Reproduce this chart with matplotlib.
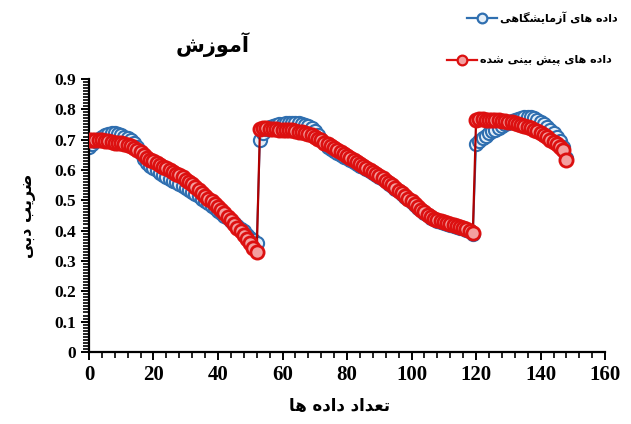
import matplotlib
matplotlib.use("Agg")
import matplotlib.pyplot as plt
from matplotlib.lines import Line2D
from matplotlib.ticker import MultipleLocator

# measured (lab) and predicted discharge coefficient, one value per sample
measured = [
    0.675, 0.685, 0.695, 0.703, 0.710, 0.715, 0.718, 0.720, 0.720, 0.718,
    0.715, 0.710, 0.704, 0.697, 0.688, 0.675, 0.655, 0.635, 0.622, 0.613,
    0.605, 0.598, 0.590, 0.583, 0.577, 0.571, 0.565, 0.559, 0.553, 0.547,
    0.540, 0.534, 0.527, 0.520, 0.513, 0.505, 0.497, 0.490, 0.482, 0.474,
    0.466, 0.457, 0.449, 0.440, 0.432, 0.424, 0.415, 0.406, 0.397, 0.387,
    0.377, 0.368, 0.360,
    0.700, 0.720, 0.735, 0.742, 0.746, 0.748, 0.750, 0.752, 0.753, 0.754,
    0.755, 0.755, 0.754, 0.752, 0.749, 0.745, 0.738, 0.728, 0.715, 0.700,
    0.687, 0.677, 0.668, 0.661, 0.655, 0.649, 0.643, 0.638, 0.632, 0.626,
    0.620, 0.614, 0.608, 0.602, 0.596, 0.590, 0.584, 0.577, 0.570, 0.562,
    0.554, 0.546, 0.538, 0.530, 0.521, 0.512, 0.503, 0.494, 0.485, 0.476,
    0.467, 0.458, 0.450, 0.443, 0.437, 0.432, 0.428, 0.425, 0.422, 0.419,
    0.416, 0.413, 0.410, 0.407, 0.403, 0.398, 0.390,
    0.685, 0.695, 0.705, 0.713, 0.720, 0.727, 0.733, 0.739, 0.745, 0.750,
    0.755, 0.760, 0.764, 0.768, 0.771, 0.773, 0.774, 0.773, 0.770, 0.765,
    0.758, 0.750, 0.742, 0.733, 0.722, 0.710, 0.695, 0.675, 0.640,
]
predicted = [
    0.700, 0.700, 0.700, 0.698, 0.697, 0.695, 0.694, 0.692, 0.690, 0.689,
    0.687, 0.685, 0.682, 0.678, 0.673, 0.667, 0.658, 0.648, 0.640, 0.634,
    0.628, 0.622, 0.616, 0.610, 0.605, 0.600, 0.594, 0.588, 0.582, 0.575,
    0.567, 0.560, 0.552, 0.543, 0.534, 0.525, 0.515, 0.505, 0.496, 0.487,
    0.477, 0.467, 0.457, 0.446, 0.434, 0.422, 0.410, 0.398, 0.386, 0.372,
    0.358, 0.344, 0.328,
    0.735, 0.738, 0.737, 0.736, 0.735, 0.734, 0.733, 0.733, 0.732, 0.731,
    0.730, 0.728, 0.726, 0.724, 0.721, 0.718, 0.714, 0.709, 0.703, 0.697,
    0.690, 0.684, 0.678, 0.671, 0.665, 0.658, 0.652, 0.645, 0.639, 0.632,
    0.626, 0.619, 0.613, 0.606, 0.600, 0.594, 0.587, 0.580, 0.572, 0.565,
    0.557, 0.549, 0.540, 0.532, 0.523, 0.514, 0.505, 0.496, 0.487, 0.478,
    0.469, 0.460, 0.452, 0.445, 0.439, 0.434, 0.430, 0.427, 0.424, 0.421,
    0.418, 0.415, 0.412, 0.409, 0.405, 0.400, 0.393,
    0.765, 0.767, 0.767, 0.766, 0.766, 0.765, 0.764, 0.763, 0.762, 0.760,
    0.759, 0.757, 0.755, 0.752, 0.749, 0.745, 0.741, 0.737, 0.732, 0.727,
    0.720, 0.714, 0.707, 0.700, 0.693, 0.685, 0.676, 0.665, 0.632,
]
samples = list(range(len(predicted)))

title_text = "آموزش"
xlabel_text = "تعداد داده ها"
ylabel_text = "ضریب دبی"
measured_label = "داده های آزمایشگاهی"
predicted_label = "داده های پیش بینی شده"

# presentation forms: isolated, final, initial, medial (None = no such form)
FORMS = {
    "ا": ("\uFE8D", "\uFE8E", None, None),
    "آ": ("\uFE81", "\uFE82", None, None),
    "د": ("\uFEA9", "\uFEAA", None, None),
    "ر": ("\uFEAD", "\uFEAE", None, None),
    "ز": ("\uFEAF", "\uFEB0", None, None),
    "و": ("\uFEED", "\uFEEE", None, None),
    "ب": ("\uFE8F", "\uFE90", "\uFE91", "\uFE92"),
    "ت": ("\uFE95", "\uFE96", "\uFE97", "\uFE98"),
    "ع": ("\uFEC9", "\uFECA", "\uFECB", "\uFECC"),
    "ش": ("\uFEB5", "\uFEB6", "\uFEB7", "\uFEB8"),
    "ض": ("\uFEBD", "\uFEBE", "\uFEBF", "\uFEC0"),
    "م": ("\uFEE1", "\uFEE2", "\uFEE3", "\uFEE4"),
    "ن": ("\uFEE5", "\uFEE6", "\uFEE7", "\uFEE8"),
    "ه": ("\uFEE9", "\uFEEA", "\uFEEB", "\uFEEC"),
    "ی": ("\uFEEF", "\uFEF0", "\uFEF3", "\uFEF4"),
    "پ": ("\uFB56", "\uFB57", "\uFB58", "\uFB59"),
    "گ": ("\uFB92", "\uFB93", "\uFB94", "\uFB95"),
}


def shape(text):
    # join Persian letters and reverse them for left-to-right drawing
    out = []
    for i, ch in enumerate(text):
        if ch not in FORMS:
            out.append(ch)
            continue
        prev = text[i - 1] if i > 0 else None
        nxt = text[i + 1] if i + 1 < len(text) else None
        joins_prev = prev in FORMS and FORMS[prev][2] is not None
        joins_next = nxt in FORMS and FORMS[ch][2] is not None
        iso, fin, ini, med = FORMS[ch]
        if joins_prev and joins_next:
            out.append(med)
        elif joins_prev:
            out.append(fin)
        elif joins_next:
            out.append(ini)
        else:
            out.append(iso)
    return "".join(reversed(out))


fa_font = ["DejaVu Sans"]
num_font = "Liberation Serif"

fig = plt.figure(figsize=(6.31, 4.24), dpi=100)
ax = fig.add_axes([0.141, 0.170, 0.818, 0.644])

blue = "#2f6fb0"
red = "#dc1010"

ax.plot(samples, measured, color=blue, lw=1.4, marker="o", ms=9.5,
        mfc="#e4eef8", mec=blue, mew=1.5, zorder=2)
ax.plot(samples, predicted, color="#b00000", lw=1.6, marker="o", ms=9.5,
        mfc="#f3a0a0", mec=red, mew=2.0, zorder=3)

ax.set_xlim(0, 160)
ax.set_ylim(0, 0.9)
ax.xaxis.set_major_locator(MultipleLocator(20))
ax.xaxis.set_minor_locator(MultipleLocator(4))
ax.yaxis.set_major_locator(MultipleLocator(0.1))
ax.yaxis.set_minor_locator(MultipleLocator(0.01))
ax.yaxis.set_major_formatter(plt.FuncFormatter(lambda v, p: "0" if v == 0 else f"{v:.1f}"))

for side in ("top", "right"):
    ax.spines[side].set_visible(False)
for side in ("left", "bottom"):
    ax.spines[side].set_linewidth(1.6)

ax.tick_params(axis="both", which="major", direction="out", length=6, width=1.4)
ax.tick_params(axis="both", which="minor", direction="out", length=4, width=1.2)
for lbl in ax.get_xticklabels():
    lbl.set_fontfamily(num_font)
    lbl.set_fontweight("bold")
    lbl.set_fontsize(15)
for lbl in ax.get_yticklabels():
    lbl.set_fontfamily(num_font)
    lbl.set_fontweight("bold")
    lbl.set_fontsize(12.5)

ax.set_xlabel(shape(xlabel_text), family=fa_font, fontweight="bold", fontsize=12)
ax.xaxis.set_label_coords(0.486, -0.165)
ax.set_ylabel(shape(ylabel_text), family=fa_font, fontweight="bold", fontsize=11.5)
ax.yaxis.set_label_coords(-0.103, 0.5)

fig.text(213 / 631, 1 - 45 / 424, shape(title_text), family=fa_font,
         fontweight="bold", fontsize=15, ha="center", va="center")

# legend drawn by hand: line sample with a marker, label on its right
legend_rows = [
    (measured_label, blue, "#e4eef8", 467, 18),
    (predicted_label, red, "#f3a0a0", 447, 60),
]
for label, col, face, x0, y0 in legend_rows:
    yf = 1 - y0 / 424
    fig.add_artist(Line2D([x0 / 631, (x0 + 30) / 631], [yf, yf], color=col, lw=1.6,
                          transform=fig.transFigure))
    fig.add_artist(Line2D([(x0 + 15) / 631], [yf], color=col, marker="o", ms=7,
                          mfc=face, mec=col, mew=1.6, transform=fig.transFigure))
    fig.text((x0 + 33) / 631, yf, shape(label), family=fa_font, fontweight="bold",
             fontsize=8, ha="left", va="center")

fig.savefig("out.png", dpi=100)
